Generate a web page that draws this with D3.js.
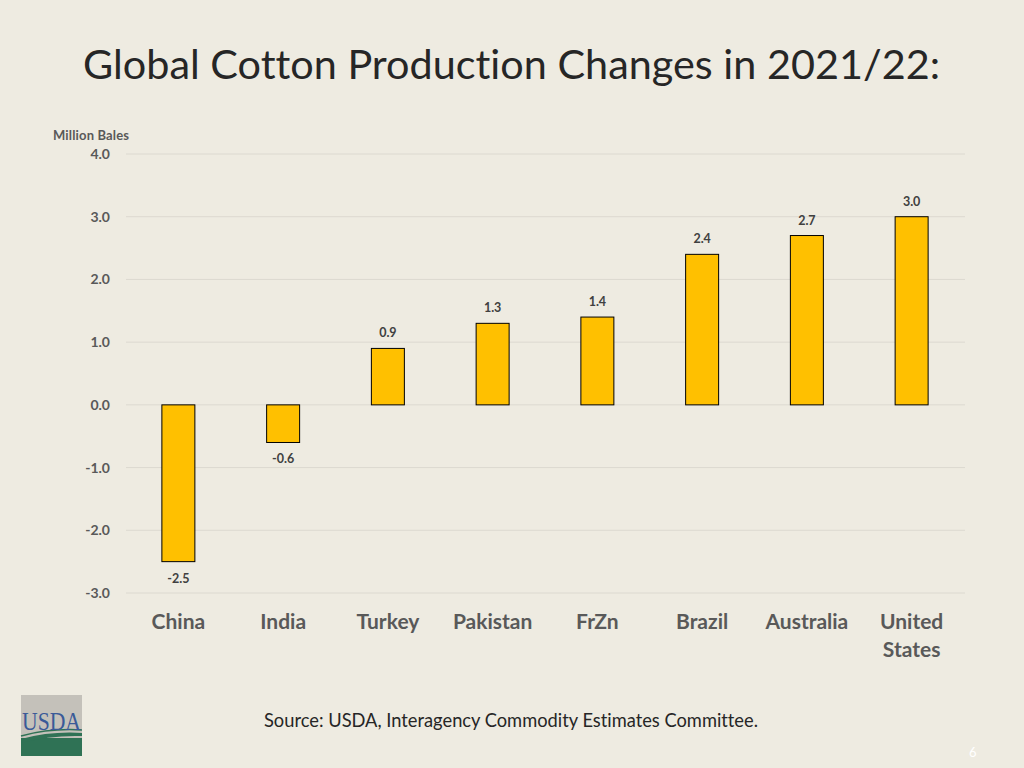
<!DOCTYPE html>
<html><head><meta charset="utf-8">
<script src="https://cdn.jsdelivr.net/npm/d3@7"></script>
<style>
html,body{margin:0;padding:0;background:#EEEBE1;}
svg{display:block;font-family:Lato,"Open Sans",sans-serif;font-variant-ligatures:none;}
</style></head>
<body><svg id="c" width="1024" height="768"></svg>
<script>
const categories = ["China","India","Turkey","Pakistan","FrZn","Brazil","Australia","United States"];
const values = [-2.5,-0.6,0.9,1.3,1.4,2.4,2.7,3.0];
const yTicks = [4,3,2,1,0,-1,-2,-3];
const titleText = "Global Cotton Production Changes in 2021/22:";
const unitText = "Million Bales";
const sourceText = "Source: USDA, Interagency Commodity Estimates Committee.";

const fmt = d => d3.format(".1f")(d).replace("\u2212","-");

const svg = d3.select("#c");
svg.append("rect").attr("width",1024).attr("height",768).attr("fill","#EEEBE1");

svg.append("text").attr("x",83).attr("y",79).attr("font-size",41).attr("fill","#262626")
  .attr("textLength",857).attr("lengthAdjust","spacingAndGlyphs")
  .text(titleText);

const x = d3.scaleBand().domain(categories).range([126,964]).paddingInner(0.685).paddingOuter(0.3425);
const y = d3.scaleLinear().domain([-3,4]).range([593,154]);

// gridlines
svg.append("g").selectAll("line").data(yTicks).join("line")
  .attr("x1",126).attr("x2",965).attr("y1",d=>y(d)).attr("y2",d=>y(d))
  .attr("stroke","#DCD9D0").attr("stroke-width",1);

// y axis labels
const yAxis = d3.axisLeft(y).tickValues(yTicks).tickFormat(fmt).tickSize(0).tickPadding(0);
const ya = svg.append("g").attr("transform","translate(110,0)").call(yAxis);
ya.select(".domain").remove();
ya.selectAll("text").attr("font-size",14).attr("font-weight","bold").attr("fill","#595959")
  .attr("font-family","Lato,'Open Sans',sans-serif");

svg.append("text").attr("x",53).attr("y",140).attr("font-size",13).attr("font-weight","bold")
  .attr("fill","#595959").attr("textLength",76).text(unitText);

// bars
svg.append("g").selectAll("rect").data(values).join("rect")
  .attr("x",(d,i)=>x(categories[i])).attr("width",x.bandwidth())
  .attr("y",d=>y(Math.max(0,d))).attr("height",d=>Math.abs(y(d)-y(0)))
  .attr("fill","#FFC000").attr("stroke","#000").attr("stroke-width",1);

// value labels
svg.append("g").selectAll("text").data(values).join("text")
  .attr("x",(d,i)=>x(categories[i])+x.bandwidth()/2)
  .attr("y",d=> d>=0 ? y(d)-11 : y(d)+21)
  .attr("text-anchor","middle").attr("font-size",12.5).attr("font-weight","bold").attr("fill","#404040")
  .text(fmt);

// category labels
const xAxis = d3.axisBottom(x).tickSize(0).tickPadding(0);
const xa = svg.append("g").attr("transform","translate(0,612)").call(xAxis);
xa.select(".domain").remove();
xa.selectAll("text").remove();
xa.selectAll(".tick").each(function(d){
  const words = d.split(" ");
  const t = d3.select(this).append("text").attr("text-anchor","middle").attr("font-size",21)
    .attr("font-weight","bold").attr("fill","#595959").attr("font-family","Lato,'Open Sans',sans-serif");
  words.forEach((w,k)=>t.append("tspan").attr("x",0).attr("y",17+k*28).text(w));
});

// source
svg.append("text").attr("x",264).attr("y",727).attr("font-size",18.3).attr("fill","#262626")
  .attr("textLength",494).text(sourceText);
svg.append("text").attr("x",969).attr("y",757).attr("font-size",13).attr("fill","#FFFFFF").text("6");

// USDA logo
const logo = svg.append("g").attr("transform","translate(21,695)");
logo.append("rect").attr("width",61).attr("height",61).attr("fill","#C4C1BA");
logo.append("rect").attr("y",43).attr("width",61).attr("height",18).attr("fill","#2F7255");
logo.append("path").attr("d","M0,44 Q30,36 61,38 L61,41 Q30,40 0,48 Z").attr("fill","#2F7255");
logo.append("path").attr("d","M0,41 Q30,33 61,35").attr("stroke","#2F7255").attr("stroke-width",1.5).attr("fill","none");
logo.append("text").attr("x",30.5).attr("y",35).attr("text-anchor","middle").attr("font-size",25)
  .attr("font-family","'Liberation Serif',serif").attr("fill","#3A5A98").attr("textLength",59)
  .attr("lengthAdjust","spacingAndGlyphs").text("USDA");
</script></body></html>
